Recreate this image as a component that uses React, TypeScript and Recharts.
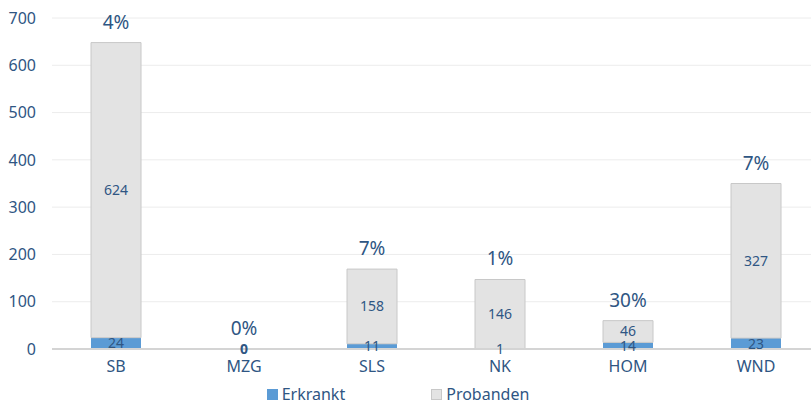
import React from 'react';
import { ComposedChart, Bar, Line, XAxis, YAxis, CartesianGrid, Legend, LabelList } from 'recharts';

const categories = ['SB', 'MZG', 'SLS', 'NK', 'HOM', 'WND'];
const erkrankt = [24, 0, 11, 1, 14, 23];
const probanden = [624, 0, 158, 146, 46, 327];
const percentLabels = ['4%', '0%', '7%', '1%', '30%', '7%'];
const yTicks = [0, 100, 200, 300, 400, 500, 600, 700];

const data = categories.map((name, i) => ({
  name,
  erkrankt: erkrankt[i],
  probanden: probanden[i],
  total: erkrankt[i] + probanden[i],
  pct: percentLabels[i],
  // zero-height bars draw no label, so zeros get their label from a hidden line
  zero: erkrankt[i] === 0 && probanden[i] === 0 ? 0 : null,
}));

const TEXT = '#2f5683';
const FONT = '"Noto Sans", "Open Sans", sans-serif';

const legendItems = [
  { label: 'Erkrankt', fill: '#5b9bd5', stroke: '#5b9bd5' },
  { label: 'Probanden', fill: '#e3e3e3', stroke: '#c8c8c8' },
];

const renderLegend = () => (
  <div style={{ display: 'flex', justifyContent: 'center', gap: 86, paddingRight: 24, fontFamily: FONT, fontSize: 16, color: TEXT }}>
    {legendItems.map((item) => (
      <div key={item.label} style={{ display: 'flex', alignItems: 'center' }}>
        <span
          style={{
            display: 'inline-block',
            width: 9,
            height: 9,
            background: item.fill,
            border: `1px solid ${item.stroke}`,
            marginRight: 4,
          }}
        />
        <span>{item.label}</span>
      </div>
    ))}
  </div>
);

export default function App() {
  return (
    <div style={{ width: 811, height: 405, overflow: 'hidden', fontFamily: FONT }}>
      <style>{`body{margin:0}`}</style>
      <ComposedChart
        width={830}
        height={405}
        data={data}
        margin={{ top: 18, right: 10, bottom: 0, left: 0 }}
        barCategoryGap={0}
      >
        <CartesianGrid vertical={false} stroke="#ececec" />
        <XAxis
          dataKey="name"
          tickLine={false}
          axisLine={{ stroke: '#d4d4d4', strokeWidth: 2 }}
          tick={{ fill: TEXT, fontSize: 16, fontFamily: FONT }}
          tickMargin={6}
          height={30}
        />
        <YAxis
          width={52}
          domain={[0, 700]}
          ticks={yTicks}
          axisLine={false}
          tickLine={false}
          tickMargin={10}
          tick={{ fill: TEXT, fontSize: 16, fontFamily: FONT }}
        />
        <Legend verticalAlign="bottom" height={26} content={renderLegend} wrapperStyle={{ bottom: -4 }} />
        <Bar
          dataKey="erkrankt"
          name="Erkrankt"
          stackId="a"
          fill="#5b9bd5"
          barSize={50}
          isAnimationActive={false}
        >
          <LabelList dataKey="erkrankt" position="center" fill={TEXT} fontSize={14} fontFamily={FONT} />
        </Bar>
        <Bar
          dataKey="probanden"
          name="Probanden"
          stackId="a"
          fill="#e3e3e3"
          stroke="#c8c8c8"
          barSize={50}
          isAnimationActive={false}
        >
          <LabelList dataKey="probanden" position="center" fill={TEXT} fontSize={14} fontFamily={FONT} />
        </Bar>
        <Line
          dataKey="total"
          stroke="none"
          dot={false}
          activeDot={false}
          legendType="none"
          isAnimationActive={false}
        >
          <LabelList dataKey="pct" position="top" offset={14} fill={TEXT} fontSize={19} fontFamily={FONT} />
        </Line>
        <Line
          dataKey="zero"
          stroke="none"
          dot={false}
          activeDot={false}
          legendType="none"
          isAnimationActive={false}
        >
          <LabelList dataKey="zero" position="center" fill={TEXT} fontSize={14} fontWeight="bold" fontFamily={FONT} />
        </Line>
      </ComposedChart>
    </div>
  );
}
